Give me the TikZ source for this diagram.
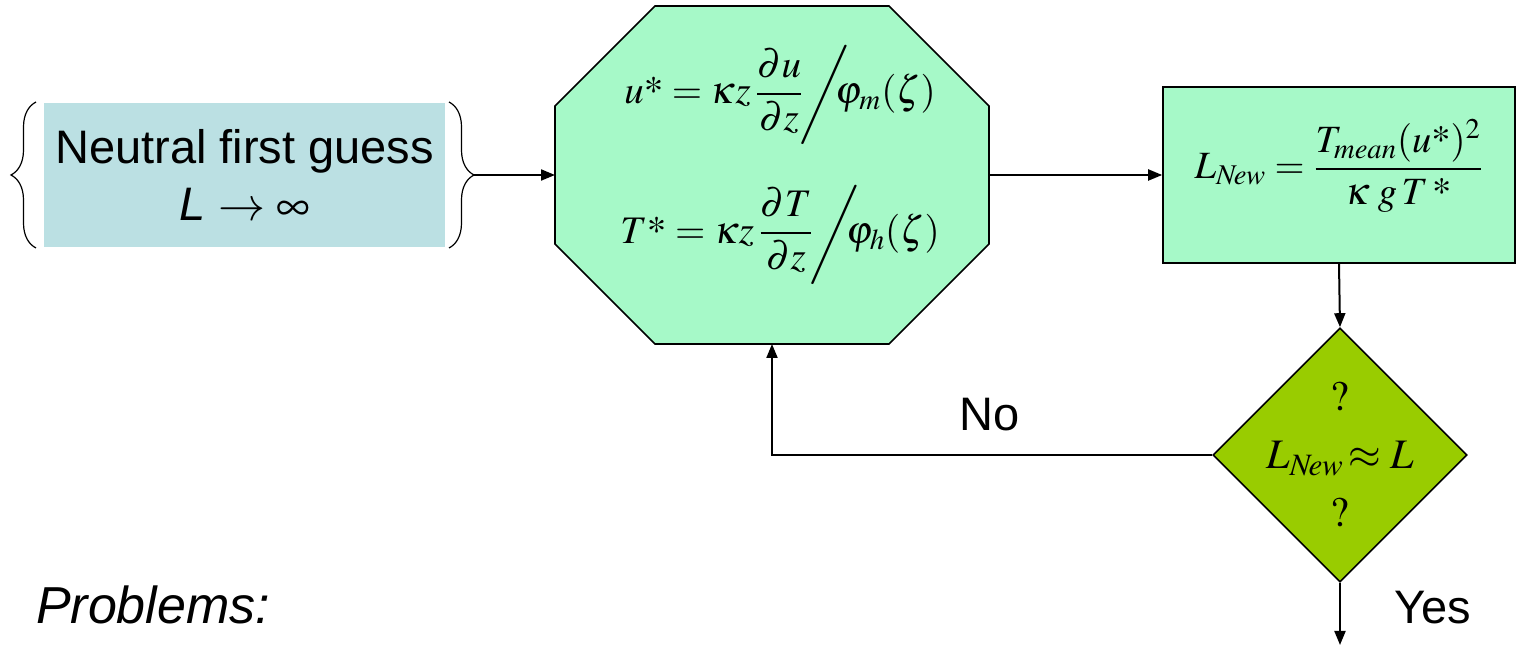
\documentclass[tikz,border=0pt]{standalone}
\usepackage{amsmath}
\usepackage{mathptmx}
\usepackage[no-math]{fontspec}
\setmainfont{Liberation Sans}
\usetikzlibrary{arrows.meta,positioning,shapes.geometric,decorations.pathreplacing,backgrounds}
\definecolor{c1}{HTML}{BBE0E3}
\definecolor{c2}{HTML}{A6F9C8}
\definecolor{c3}{HTML}{99CC00}
\newcommand{\tstar}{\mbox{\usefont{OT1}{ptm}{m}{n}*}}
\newcommand{\Lnew}{L_{N\!ew}}
\newcommand{\bigslash}{\!\scalebox{1}[0.85]{$\Bigg/$}\!\!\!}

\begin{document}
\begin{tikzpicture}[x=0.5pt,y=-0.5pt,>={Triangle[length=7pt,width=5.5pt]},line width=1pt,
  guessbox/.style={fill=c1,minimum width=200.5pt,minimum height=72pt,inner sep=0pt,align=center,
    font=\fontsize{23.5}{28.5}\selectfont},
  calcbox/.style={fill=c2,draw,line width=0.8pt},
  testbox/.style={diamond,fill=c3,draw,line width=0.8pt,minimum size=127pt,inner sep=0pt},
  lbl/.style={font=\fontsize{23.5}{28}\selectfont}]
\useasboundingbox (0,0) rectangle (1517,646);

% first guess with braces
\node[guessbox] (guess) at (244.5,175) {Neutral first guess\\\textit{L} $\rightarrow\infty$};
\draw[line width=0.6pt,decorate,decoration={brace,amplitude=12.5pt}]
  ([xshift=-3.5pt]guess.south west) -- ([xshift=-3.5pt]guess.north west);
\draw[line width=0.6pt,decorate,decoration={brace,amplitude=12.5pt}]
  ([xshift=1.5pt]guess.north east) -- ([xshift=1.5pt]guess.south east);
\coordinate (gtip) at ([xshift=14pt]guess.east);

% scaling velocities (octagon)
\node[minimum width=216pt,minimum height=168pt,inner sep=0pt] (flux) at (772,175) {};
\begin{scope}[on background layer]
\filldraw[calcbox] ([xshift=50pt]flux.north west) -- ([xshift=-50pt]flux.north east)
  -- ([yshift=-50pt]flux.north east) -- ([yshift=50pt]flux.south east)
  -- ([xshift=-50pt]flux.south east) -- ([xshift=50pt]flux.south west)
  -- ([yshift=50pt]flux.south west) -- ([yshift=-50pt]flux.north west) -- cycle;
\end{scope}
\node[align=center,font=\fontsize{19.5}{23}\selectfont] (fluxeq) at ([xshift=4pt,yshift=5pt]flux.center)
  {$u\tstar = \kappa z\,\dfrac{\partial u}{\partial z}\bigslash\varphi_m(\zeta)$\\[19pt]
   $T\tstar = \kappa z\,\dfrac{\partial T}{\partial z}\bigslash\varphi_h(\zeta)$};

% new length
\node[calcbox,minimum width=176pt,minimum height=88pt,inner sep=0pt] (lnew) at (1339,175) {};
\node[font=\fontsize{19.3}{23}\selectfont] (lnewq) at ([yshift=4.5pt]lnew.center)
  {$\Lnew = \dfrac{T_{mean}(u\tstar)^2}{\kappa\; g\, T\,\tstar}$};

% test
\node[testbox] (test) at (1340,455) {};
\node[align=center,font=\fontsize{21}{29}\selectfont] (testq) at (test.center)
  {$?$\\$\Lnew\!\approx L$\\$?$};
\coordinate (yesend) at (1340,645);

% connectors
\draw[->] (gtip) -- (flux.west);
\draw[->] (flux.east) -- (lnew.west);
\draw[->] (lnew.south) -- (test.north);
\draw[->] (test.south) -- (yesend);
\draw[->] (test.west) -| (flux.south);

\node[lbl] (no) at (990,415) {No};
\node[lbl] (yes) at (1433,608) {Yes};
\node[anchor=west,inner sep=0pt,font=\fontsize{26}{30}\selectfont\itshape] (probl) at (35,605) {Problems:};
\end{tikzpicture}
\end{document}
